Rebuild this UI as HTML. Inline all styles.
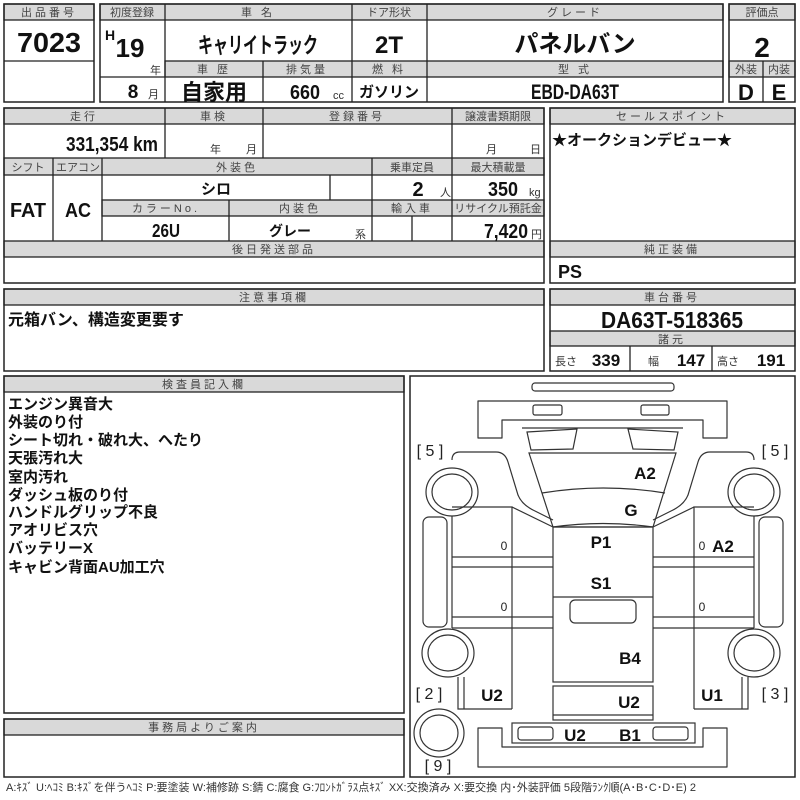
<!DOCTYPE html>
<html><head><meta charset="utf-8"><style>
html,body{margin:0;padding:0;background:#fff}
svg{display:block}
.h{fill:#d9d9d9;stroke:#222;stroke-width:1.3}
.b{fill:none;stroke:#222;stroke-width:1.5}
.l{stroke:#222;stroke-width:1.3}
.ht{font-family:"Liberation Sans","Noto Sans CJK JP",sans-serif;font-size:11px;fill:#444;text-anchor:middle;letter-spacing:3px}
.n{letter-spacing:0}
.v{font-family:"Liberation Sans Narrow","Liberation Sans","Noto Sans CJK JP",sans-serif;font-weight:bold;fill:#111;text-anchor:middle}
.j{font-family:"Liberation Sans","Noto Sans CJK JP",sans-serif;font-weight:bold;fill:#111}
.s{font-family:"Liberation Sans","Noto Sans CJK JP",sans-serif;font-size:11px;fill:#333}
.d{fill:none;stroke:#333;stroke-width:1.2}
.dl{font-family:"Liberation Sans","Noto Sans CJK JP",sans-serif;font-weight:bold;font-size:17px;fill:#111;text-anchor:middle}
.br{font-family:"Liberation Sans",sans-serif;font-size:16px;fill:#222;text-anchor:middle}
</style></head><body>
<svg width="800" height="800" viewBox="0 0 800 800" xmlns="http://www.w3.org/2000/svg">
<rect class="h" x="4" y="4" width="90" height="16"/><text class="ht" x="49" y="16">出品番号</text>
<rect class="b" x="4" y="4" width="90" height="98"/><line class="l" x1="4" y1="61" x2="94" y2="61"/>
<text class="v" x="49" y="52" font-size="28" textLength="64" lengthAdjust="spacingAndGlyphs">7023</text>
<rect class="h" x="100" y="4" width="623" height="16"/>
<rect class="h" x="165" y="61" width="558" height="16"/>
<rect class="b" x="100" y="4" width="623" height="98"/>
<line class="l" x1="165" y1="4" x2="165" y2="102"/><line class="l" x1="352" y1="4" x2="352" y2="102"/><line class="l" x1="427" y1="4" x2="427" y2="102"/>
<line class="l" x1="263" y1="61" x2="263" y2="102"/><line class="l" x1="100" y1="77" x2="165" y2="77"/>
<text class="ht n" x="132" y="16">初度登録</text><text class="ht" x="258" y="16">車 名</text><text class="ht n" x="389" y="16">ドア形状</text><text class="ht" x="575" y="16">グレード</text>
<text class="ht" x="214" y="73">車 歴</text><text class="ht" x="307" y="73">排気量</text><text class="ht" x="389" y="73">燃 料</text><text class="ht" x="575" y="73">型 式</text>
<text class="v" x="110" y="40" font-size="14">H</text><text class="v" x="130" y="57" font-size="26">19</text><text class="s" x="150" y="74">年</text>
<text class="v" x="133" y="98" font-size="19">8</text><text class="s" x="148" y="98">月</text>
<text class="j" x="258" y="53" font-size="22" text-anchor="middle" textLength="120" lengthAdjust="spacingAndGlyphs">キャリイトラック</text>
<text class="v" x="389" y="53" font-size="24">2T</text>
<text class="j" x="575" y="52" font-size="24" text-anchor="middle">パネルバン</text>
<text class="j" x="214" y="100" font-size="22" text-anchor="middle">自家用</text>
<text class="v" x="305" y="99" font-size="20" textLength="30" lengthAdjust="spacingAndGlyphs">660</text><text class="s" x="333" y="99">cc</text>
<text class="j" x="389" y="97" font-size="15" text-anchor="middle">ガソリン</text>
<text class="v" x="575" y="99" font-size="21" textLength="88" lengthAdjust="spacingAndGlyphs">EBD-DA63T</text>
<rect class="h" x="729" y="4" width="66" height="16"/><rect class="h" x="729" y="61" width="66" height="16"/>
<rect class="b" x="729" y="4" width="66" height="98"/><line class="l" x1="763" y1="61" x2="763" y2="102"/>
<text class="ht n" x="762" y="16">評価点</text>
<text class="v" x="762" y="57" font-size="28">2</text>
<text class="ht n" x="746" y="73">外装</text><text class="ht n" x="779" y="73">内装</text>
<text class="v" x="746" y="100" font-size="22">D</text><text class="v" x="779" y="100" font-size="22">E</text>
<rect class="h" x="4" y="108" width="540" height="16"/>
<rect class="h" x="4" y="158" width="540" height="17"/>
<rect class="h" x="102" y="200" width="442" height="16"/>
<rect class="h" x="4" y="241" width="540" height="16"/>
<rect class="b" x="4" y="108" width="540" height="175"/>
<line class="l" x1="165" y1="108" x2="165" y2="158"/><line class="l" x1="263" y1="108" x2="263" y2="158"/><line class="l" x1="452" y1="108" x2="452" y2="241"/>
<line class="l" x1="53" y1="158" x2="53" y2="241"/><line class="l" x1="102" y1="158" x2="102" y2="241"/><line class="l" x1="372" y1="158" x2="372" y2="241"/>
<line class="l" x1="330" y1="175" x2="330" y2="200"/><line class="l" x1="229" y1="200" x2="229" y2="241"/><line class="l" x1="412" y1="216" x2="412" y2="241"/>
<text class="ht" x="84" y="120">走行</text><text class="ht" x="214" y="120">車検</text><text class="ht" x="357" y="120">登録番号</text><text class="ht n" x="498" y="120">譲渡書類期限</text>
<text class="v" x="112" y="151" font-size="20" textLength="92" lengthAdjust="spacingAndGlyphs">331,354 km</text>
<text class="s" x="210" y="153">年</text><text class="s" x="246" y="153">月</text><text class="s" x="486" y="153">月</text><text class="s" x="530" y="153">日</text>
<text class="ht n" x="28" y="171">シフト</text><text class="ht n" x="78" y="171">エアコン</text><text class="ht" x="237" y="171">外装色</text><text class="ht n" x="412" y="171">乗車定員</text><text class="ht n" x="498" y="171">最大積載量</text>
<text class="ht" x="166" y="212">カラーNo.</text><text class="ht" x="300" y="212">内装色</text><text class="ht" x="412" y="212">輸入車</text><text class="ht n" x="498" y="212" font-size="10.5">リサイクル預託金</text>
<text class="v" x="28" y="217" font-size="20" textLength="36" lengthAdjust="spacingAndGlyphs">FAT</text><text class="v" x="78" y="217" font-size="20" textLength="26" lengthAdjust="spacingAndGlyphs">AC</text>
<text class="j" x="216" y="194" font-size="15" text-anchor="middle">シロ</text>
<text class="v" x="418" y="196" font-size="20">2</text><text class="s" x="440" y="196">人</text>
<text class="v" x="503" y="196" font-size="20" textLength="30" lengthAdjust="spacingAndGlyphs">350</text><text class="s" x="529" y="196">kg</text>
<text class="v" x="166" y="237" font-size="18" textLength="28" lengthAdjust="spacingAndGlyphs">26U</text>
<text class="j" x="290" y="236" font-size="14" text-anchor="middle">グレー</text><text class="s" x="355" y="238">系</text>
<text class="v" x="506" y="238" font-size="20" textLength="44" lengthAdjust="spacingAndGlyphs">7,420</text><text class="s" x="531" y="238">円</text>
<text class="ht" x="274" y="253">後日発送部品</text>
<rect class="h" x="550" y="108" width="245" height="16"/><rect class="h" x="550" y="241" width="245" height="16"/>
<rect class="b" x="550" y="108" width="245" height="175"/>
<text class="ht" x="672" y="120" letter-spacing="6">セールスポイント</text>
<text class="j" x="552" y="145" font-size="15">★オークションデビュー★</text>
<text class="ht" x="672" y="253">純正装備</text>
<text class="v" x="570" y="278" font-size="18">PS</text>
<rect class="h" x="4" y="289" width="540" height="16"/><rect class="b" x="4" y="289" width="540" height="82"/>
<text class="ht" x="274" y="301">注意事項欄</text>
<text class="j" x="8" y="325" font-size="16">元箱バン、構造変更要す</text>
<rect class="h" x="550" y="289" width="245" height="16"/><rect class="h" x="550" y="331" width="245" height="15"/>
<rect class="b" x="550" y="289" width="245" height="82"/>
<line class="l" x1="630" y1="346" x2="630" y2="371"/><line class="l" x1="712" y1="346" x2="712" y2="371"/>
<text class="ht" x="672" y="301">車台番号</text><text class="ht" x="672" y="343">諸元</text>
<text class="v" x="672" y="328" font-size="23" textLength="142" lengthAdjust="spacingAndGlyphs">DA63T-518365</text>
<text class="s" x="555" y="365">長さ</text><text class="v" x="606" y="366" font-size="17">339</text>
<text class="s" x="648" y="365">幅</text><text class="v" x="691" y="366" font-size="17">147</text>
<text class="s" x="717" y="365">高さ</text><text class="v" x="771" y="366" font-size="17">191</text>
<rect class="h" x="4" y="376" width="400" height="16"/><rect class="b" x="4" y="376" width="400" height="337"/>
<text class="ht" x="204" y="388">検査員記入欄</text>
<g class="j" font-size="15">
<text x="8" y="409">エンジン異音大</text><text x="8" y="427">外装のり付</text><text x="8" y="445">シート切れ・破れ大、へたり</text>
<text x="8" y="463">天張汚れ大</text><text x="8" y="482">室内汚れ</text><text x="8" y="500">ダッシュ板のり付</text>
<text x="8" y="517">ハンドルグリップ不良</text><text x="8" y="535">アオリビス穴</text><text x="8" y="553">バッテリーX</text><text x="8" y="572">キャビン背面AU加工穴</text>
</g>
<rect class="h" x="4" y="719" width="400" height="16"/><rect class="b" x="4" y="719" width="400" height="58"/>
<text class="ht" x="204" y="731" letter-spacing="6">事務局よりご案内</text>
<rect class="b" x="410" y="376" width="385" height="401"/>
<g class="d">
<rect x="532" y="383" width="142" height="8" rx="3"/>
<path d="M478 401 H727 V438 H703 V420 H502 V438 H478 Z" stroke-linejoin="round"/>
<rect x="533" y="405" width="29" height="10" rx="2"/><rect x="641" y="405" width="28" height="10" rx="2"/>
<path d="M522 428 L683 428"/><path d="M527 432 L577 429 L573 449 L531 450 Z"/><path d="M628 429 L678 432 L674 450 L633 449 Z"/>
<path d="M529 453 L676 453 L653 527 L553 527 Z"/>
<path d="M542 493 Q603 483 665 493"/>
<path d="M553 527 Q603 520 653 527"/>
<path d="M452 460 Q452 452 460 452 L496 452 Q505 452 508 462 L518 495 Q522 505 535 511 L553 520"/>
<path d="M512 507 L553 527"/>
<ellipse cx="452" cy="492" rx="26" ry="24"/><ellipse cx="452" cy="492" rx="20" ry="18"/>
<path d="M452 516 V628 M452 507 H512 V709 M452 557 H553 M452 567 H553 M452 617 H553 M452 628 H553"/>
<rect x="423" y="517" width="24" height="110" rx="6"/>
<ellipse cx="448" cy="653" rx="26" ry="24"/><ellipse cx="448" cy="653" rx="20" ry="18"/>
<path d="M458 677 V709 H512"/><path d="M464 677 V709"/>
<path d="M754 460 Q754 452 746 452 L710 452 Q701 452 698 462 L688 495 Q684 505 671 511 L653 520"/>
<path d="M694 507 L653 527"/>
<ellipse cx="754" cy="492" rx="26" ry="24"/><ellipse cx="754" cy="492" rx="20" ry="18"/>
<path d="M754 516 V628 M754 507 H694 V709 M754 557 H653 M754 567 H653 M754 617 H653 M754 628 H653"/>
<rect x="759" y="517" width="24" height="110" rx="6"/>
<ellipse cx="754" cy="653" rx="26" ry="24"/><ellipse cx="754" cy="653" rx="20" ry="18"/>
<path d="M748 677 V709 H694"/><path d="M742 677 V709"/>
<rect x="553" y="527" width="100" height="155"/>
<path d="M553 597 H653"/><rect x="570" y="600" width="66" height="23" rx="5"/>
<rect x="553" y="686" width="100" height="34"/><path d="M553 715 H653"/>
<path d="M478 728 H502 V747 H703 V728 H727 V767 H478 Z" stroke-linejoin="round"/>
<rect x="512" y="723" width="183" height="20"/>
<rect x="518" y="727" width="35" height="13" rx="3"/><rect x="653" y="727" width="35" height="13" rx="3"/>
<ellipse cx="439" cy="733" rx="25" ry="24"/><ellipse cx="439" cy="733" rx="19" ry="18"/>
</g>
<text class="br" x="430" y="456">[ 5 ]</text><text class="br" x="775" y="456">[ 5 ]</text>
<text class="br" x="429" y="699">[ 2 ]</text><text class="br" x="775" y="699">[ 3 ]</text><text class="br" x="438" y="771">[ 9 ]</text>
<text class="dl" x="645" y="479">A2</text><text class="dl" x="631" y="516">G</text><text class="dl" x="601" y="548">P1</text>
<text class="dl" x="601" y="589">S1</text><text class="dl" x="630" y="664">B4</text><text class="dl" x="492" y="701">U2</text>
<text class="dl" x="629" y="708">U2</text><text class="dl" x="712" y="701">U1</text><text class="dl" x="575" y="741">U2</text>
<text class="dl" x="630" y="741">B1</text><text class="dl" x="723" y="552">A2</text>
<g font-family="Liberation Sans" font-size="12" fill="#222" text-anchor="middle"><text x="504" y="550">0</text><text x="504" y="611">0</text><text x="702" y="550">0</text><text x="702" y="611">0</text></g>
<text class="s" x="6" y="791" font-size="9.5" textLength="690" lengthAdjust="spacingAndGlyphs">A:ｷｽﾞ U:ﾍｺﾐ B:ｷｽﾞを伴うﾍｺﾐ P:要塗装 W:補修跡 S:錆 C:腐食 G:ﾌﾛﾝﾄｶﾞﾗｽ点ｷｽﾞ XX:交換済み X:要交換 内･外装評価 5段階ﾗﾝｸ順(A･B･C･D･E) 2</text>
</svg>
</body></html>
